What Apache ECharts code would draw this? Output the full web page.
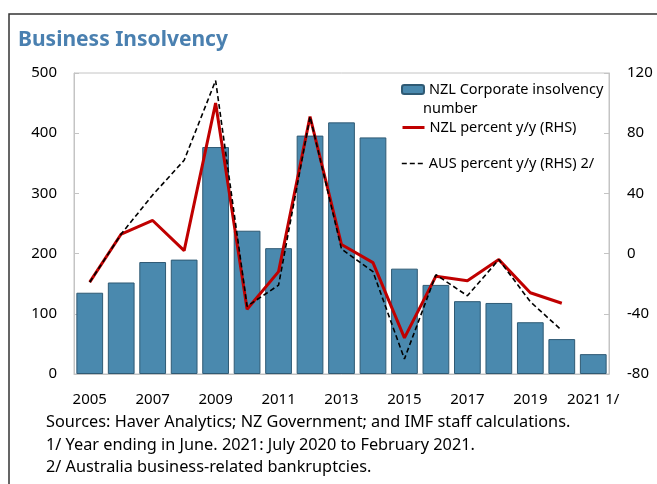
<!DOCTYPE html>
<html>
<head>
<meta charset="utf-8">
<script src="https://cdn.jsdelivr.net/npm/echarts@6/dist/echarts.min.js"></script>
<style>
  html, body { margin: 0; padding: 0; background: #fff; }
  #main { width: 657px; height: 484px; }
</style>
</head>
<body>
<div id="main"></div>
<script>
// data
var years = ['2005', '2006', '2007', '2008', '2009', '2010', '2011', '2012', '2013',
  '2014', '2015', '2016', '2017', '2018', '2019', '2020', '2021 1/'];
var nzlCount = [135, 152, 186, 190, 377, 238, 209, 396, 418, 393, 175, 148, 121, 118, 86, 58, 33];
var nzlPct = [-19, 13, 22, 2, 100, -37, -12, 91, 6, -6, -56, -15, -18, -4, -26, -33];
var ausPct = [-19, 13, 39, 62, 115, -35, -21, 91, 3, -12, -70, -14, -28, -4, -32, -51];

var font = 'Noto Sans';
var barName = 'NZL Corporate insolvency';
var nzlName = 'NZL percent y/y (RHS)';
var ausName = 'AUS percent y/y (RHS) 2/';

var chart = echarts.init(document.getElementById('main'));

var legendText = { fontFamily: font, fontSize: 14.5, color: '#000' };
var noteFont = '16.3px "Noto Sans"';

var option = {
  backgroundColor: '#fff',
  animation: false,
  textStyle: { fontFamily: font },
  title: {
    text: 'Business Insolvency',
    left: 13, top: 25,
    textStyle: { fontFamily: font, fontSize: 21, fontWeight: 'bold', color: '#4a80b0' }
  },
  grid: {
    left: 74, right: 48, top: 73, bottom: 110,
    show: true, borderColor: '#c4c4c4', borderWidth: 1
  },
  legend: [
    {
      data: [barName], left: 396, top: 77, itemWidth: 22, itemHeight: 9,
      textStyle: legendText
    },
    {
      data: [nzlName], left: 396, top: 115, itemWidth: 22, itemHeight: 14,
      itemStyle: { opacity: 0 }, lineStyle: { width: 3 }, textStyle: legendText
    },
    {
      data: [ausName], left: 396, top: 151, itemWidth: 22, itemHeight: 14,
      itemStyle: { opacity: 0 }, lineStyle: { width: 1.6 }, textStyle: legendText
    }
  ],
  xAxis: {
    type: 'category',
    data: years,
    axisLine: { lineStyle: { color: '#c4c4c4' } },
    axisTick: { inside: true, length: 4, interval: 0, lineStyle: { color: '#c4c4c4' } },
    axisLabel: { interval: 1, margin: 18, fontFamily: font, fontSize: 15, color: '#000' }
  },
  yAxis: [
    {
      type: 'value', min: 0, max: 500, interval: 100,
      axisLine: { show: true, lineStyle: { color: '#c4c4c4' } },
      axisTick: { show: true, inside: true, length: 5, lineStyle: { color: '#c4c4c4' } },
      splitLine: { show: false },
      axisLabel: { margin: 17, fontFamily: font, fontSize: 15, color: '#000' }
    },
    {
      type: 'value', min: -80, max: 120, interval: 40,
      axisLine: { show: true, lineStyle: { color: '#c4c4c4' } },
      axisTick: { show: true, inside: true, length: 5, lineStyle: { color: '#c4c4c4' } },
      splitLine: { show: false },
      axisLabel: { margin: 18, fontFamily: font, fontSize: 15, color: '#000' }
    }
  ],
  series: [
    {
      name: barName, type: 'bar', data: nzlCount, barCategoryGap: '15%',
      itemStyle: { color: '#4a89ae', borderColor: '#2f5a74', borderWidth: 1 }
    },
    {
      name: nzlName, type: 'line', yAxisIndex: 1, data: nzlPct,
      symbol: 'none', lineStyle: { color: '#c00000', width: 3 },
      itemStyle: { color: '#c00000' }
    },
    {
      name: ausName, type: 'line', yAxisIndex: 1, data: ausPct,
      symbol: 'none', lineStyle: { color: '#000', width: 1.6, type: [5, 3] },
      itemStyle: { color: '#000' }
    }
  ],
  graphic: [
    {
      type: 'polyline', silent: true,
      shape: { points: [[9, 484], [9, 14], [657, 14]] },
      style: { stroke: '#333', lineWidth: 1.5, fill: null }
    },
    { type: 'text', left: 423, top: 101, style: { text: 'number', font: '14.5px "Noto Sans"', fill: '#000' } },
    { type: 'text', left: 46, top: 414, style: { text: 'Sources: Haver Analytics; NZ Government; and IMF staff calculations.', font: noteFont, fill: '#000' } },
    { type: 'text', left: 46, top: 437, style: { text: '1/ Year ending in June. 2021: July 2020 to February 2021.', font: noteFont, fill: '#000' } },
    { type: 'text', left: 46, top: 459, style: { text: '2/ Australia business-related bankruptcies.', font: noteFont, fill: '#000' } }
  ]
};

chart.setOption(option);
</script>
</body>
</html>
